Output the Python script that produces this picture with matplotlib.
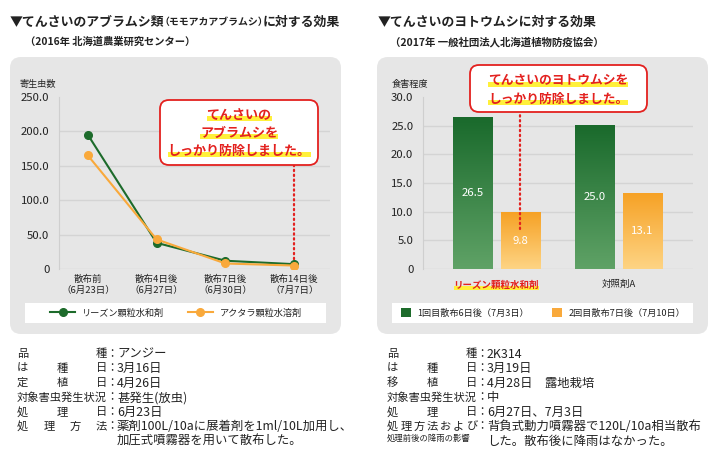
import numpy as np
import matplotlib
matplotlib.use("Agg")
import matplotlib.pyplot as plt
from matplotlib.patches import FancyBboxPatch, Rectangle, Patch
from matplotlib.transforms import IdentityTransform
from matplotlib.ticker import FuncFormatter

plt.rcParams['font.family'] = ['Noto Sans CJK JP', 'DejaVu Sans']

W, H = 720, 474

# --- left chart: aphids
days = ["散布前\n（6月23日）", "散布4日後\n（6月27日）", "散布7日後\n（6月30日）", "散布14日後\n（7月7日）"]
reason = [195, 38, 12, 7]
actara = [165, 43, 8, 5]
line_names = ["リーズン顆粒水和剤", "アクタラ顆粒水溶剤"]
left_ticks = [0, 50, 100, 150, 200, 250]

# --- right chart: cutworms
products = ["リーズン顆粒水和剤", "対照剤A"]
first = [26.5, 25.0]
second = [9.8, 13.1]
bar_names = ["1回目散布6日後（7月3日）", "2回目散布7日後（7月10日）"]
right_ticks = [0, 5, 10, 15, 20, 25, 30]

# --- notes under charts
left_notes = [
    (["品", "種"], "アンジー"),
    (["は", "種", "日"], "3月16日"),
    (["定", "植", "日"], "4月26日"),
    (["対象害虫発生状況"], "甚発生(放虫)"),
    (["処", "理", "日"], "6月23日"),
    (["処", "理", "方", "法"], "薬剤100L/10aに展着剤を1ml/10L加用し、\n加圧式噴霧器を用いて散布した。"),
]
right_notes = [
    (["品", "種"], "2K314"),
    (["は", "種", "日"], "3月19日"),
    (["移", "植", "日"], "4月28日　露地栽培"),
    (["対象害虫発生状況"], "中"),
    (["処", "理", "日"], "6月27日、7月3日"),
    (["処", "理", "方", "法", "お", "よ", "び"], "背負式動力噴霧器で120L/10a相当散布\nした。散布後に降雨はなかった。"),
]

GREEN = "#1d6b2b"
ORANGE = "#f9a93b"
RED = "#e3211f"
YELLOW = "#fff03a"
TXT = "#222222"
GRID = "#d4d4d4"
BG = "#e6e6e6"

fig = plt.figure(figsize=(W / 100, H / 100), dpi=100)
inch = fig.dpi_scale_trans


def P(x, y):
    return x / 100, (H - y) / 100


def ftext(x, y, s, **kw):
    kw.setdefault("color", TXT)
    return fig.text(*P(x, y), s, transform=inch, **kw)


def box(x0, x1, y0, y1, r, **kw):
    fig.add_artist(FancyBboxPatch(P(x0, y1), (x1 - x0) / 100, (y1 - y0) / 100,
                                  boxstyle="round,pad=0,rounding_size=%g" % r,
                                  transform=inch, **kw))


marked = []


def fmt(v, pos):
    return "0" if v == 0 else "%.1f" % v


def style_axes(ax, ticks):
    ax.set_facecolor("none")
    for s in ["top", "right", "bottom"]:
        ax.spines[s].set_visible(False)
    ax.spines["left"].set_color("#cfcfcf")
    ax.set_yticks(ticks)
    ax.set_ylim(ticks[0], ticks[-1])
    ax.yaxis.set_major_formatter(FuncFormatter(fmt))
    ax.tick_params(axis="y", length=0, pad=7, labelsize=8.2, labelcolor=TXT)
    ax.tick_params(axis="x", length=0)
    ax.yaxis.grid(True, color=GRID, lw=1)
    ax.get_ygridlines()[-1].set_visible(False)
    ax.set_axisbelow(True)


# ---------------- left panel ----------------
box(10, 341, 57, 334, 0.11, fc=BG, ec="none", zorder=-3)
box(25, 326, 303, 323, 0.0, fc="white", ec="none", zorder=-2)
ftext(10, 22, "▼てんさいのアブラムシ類", fontsize=9.3, weight="bold", va="center")
ftext(159, 22.5, "（モモアカアブラムシ）", fontsize=7.1, weight="bold", va="center")
ftext(263, 22, "に対する効果", fontsize=9.3, weight="bold", va="center")
ftext(25, 42, "（2016年 北海道農業研究センター）", fontsize=7.4, weight="bold", va="center")

ax1 = fig.add_axes([59 / W, 1 - 269 / H, (330 - 59) / W, (269 - 97) / H])
style_axes(ax1, left_ticks)
xi = np.arange(len(days))
ax1.plot(xi, reason, color=GREEN, lw=1.5, marker="o", ms=5.5, label=line_names[0], zorder=3)
ax1.plot(xi, actara, color=ORANGE, lw=1.5, marker="o", ms=5.5, label=line_names[1], zorder=4)
ax1.set_xlim(-0.42, 3.52)
ax1.set_xticks(xi)
ax1.set_xticklabels(days, fontsize=6.8, color=TXT, linespacing=1.25)
ax1.tick_params(axis="x", pad=4)
ftext(20, 84, "寄生虫数", fontsize=6.6, va="center")

leg1 = ax1.legend(loc="center", bbox_to_anchor=P(176, 313), bbox_transform=inch,
                  ncol=2, frameon=False, fontsize=6.6, handlelength=2.7,
                  handletextpad=0.75, columnspacing=2.6, borderaxespad=0)
for txt in leg1.get_texts():
    txt.set_color(TXT)

# callout + dotted leader
box(160, 318, 100, 165, 0.09, fc="white", ec=RED, lw=1.3, zorder=5)
for i, line in enumerate(["てんさいの", "アブラムシを", "しっかり防除しました。"]):
    marked.append(ftext(239, 115 + 18 * i, line, fontsize=9.4, weight="bold", color=RED,
                        ha="center", va="center", zorder=7))
top1 = ax1.transData.inverted().transform(inch.transform(P(0, 166)))[1]
ax1.plot([3, 3], [reason[-1], top1], color=RED, lw=1.6, ls=(0, (0.6, 1.6)),
         dash_capstyle="round", clip_on=False, zorder=2)

# ---------------- right panel ----------------
box(377, 708, 57, 334, 0.11, fc=BG, ec="none", zorder=-3)
box(392, 693, 303, 323, 0.0, fc="white", ec="none", zorder=-2)
ftext(378, 22, "▼てんさいのヨトウムシに対する効果", fontsize=9.3, weight="bold", va="center")
ftext(390, 42, "（2017年 一般社団法人北海道植物防疫協会）", fontsize=7.5, weight="bold", va="center")

ax2 = fig.add_axes([423 / W, 1 - 269 / H, (693 - 423) / W, (269 - 97) / H])
style_axes(ax2, right_ticks)
gi = np.arange(len(products))
bw, off = 0.32, 0.195
grads = [(first, -off, ["#1a6a2c", "#5fa266"]), (second, off, ["#f6a226", "#fed484"])]
for vals, dx, (c_top, c_bot) in grads:
    cmap = matplotlib.colors.LinearSegmentedColormap.from_list("g", [c_bot, c_top])
    for g, v in zip(gi, vals):
        ax2.imshow(np.linspace(0, 1, 100).reshape(-1, 1), cmap=cmap, origin="lower",
                   extent=[g + dx - bw / 2, g + dx + bw / 2, 0, v], aspect="auto", zorder=2)
        ax2.text(g + dx, v / 2, "%.1f" % v, color="white", fontsize=8.2,
                 ha="center", va="center", zorder=3)
ax2.set_xlim(-0.6, 1.61)
ax2.set_ylim(0, 30)
ax2.set_xticks(gi)
ax2.set_xticklabels(products, fontsize=6.8)
ax2.tick_params(axis="x", pad=8)
xl = ax2.get_xticklabels()
xl[0].set_color(RED)
xl[0].set_weight("bold")
xl[1].set_color(TXT)
marked.append(xl[0])
ftext(392, 84, "食害程度", fontsize=6.6, va="center")

handles = [Patch(fc=GREEN, ec="none", label=bar_names[0]),
           Patch(fc=ORANGE, ec="none", label=bar_names[1])]
leg2 = ax2.legend(handles=handles, loc="center", bbox_to_anchor=P(543, 313), bbox_transform=inch,
                  ncol=2, frameon=False, fontsize=6.6, handlelength=1.1, handleheight=1.1,
                  handletextpad=0.7, columnspacing=2.5, borderaxespad=0)
for txt in leg2.get_texts():
    txt.set_color(TXT)

box(470, 647, 65, 112, 0.09, fc="white", ec=RED, lw=1.3, zorder=5)
for i, line in enumerate(["てんさいのヨトウムシを", "しっかり防除しました。"]):
    marked.append(ftext(558, 81 + 18 * i, line, fontsize=9.2, weight="bold", color=RED,
                        ha="center", va="center", zorder=7))
top2 = ax2.transData.inverted().transform(inch.transform(P(0, 114)))[1]
ax2.plot([off, off], [7.0, top2], color=RED, lw=1.6, ls=(0, (0.6, 1.6)),
         dash_capstyle="round", clip_on=False, zorder=4)


# ---------------- notes ----------------
def notes(rows, x0, x1, y0, dy=14.5):
    for r, (chars, value) in enumerate(rows):
        y = y0 + dy * r
        if len(chars) == 1:
            ftext(x0, y, chars[0], fontsize=8.1, va="center", ha="left")
        else:
            cw = 11.3
            for k, ch in enumerate(chars):
                cx = x0 + cw / 2 + k * (x1 - x0 - cw) / (len(chars) - 1)
                ftext(cx, y, ch, fontsize=8.1, va="center", ha="center")
        ftext(x1 + 5, y, "：", fontsize=8.1, va="center", ha="center")
        ftext(x1 + 10, y - 6.4, value, fontsize=8.9, va="top", ha="left", linespacing=1.18)


notes(left_notes, 17, 107, 354)
notes(right_notes, 387, 477, 354)
ftext(387, 438, "処理前後の降雨の影響", fontsize=6.0, va="center")

# yellow marker highlight behind selected texts
fig.canvas.draw()
rend = fig.canvas.get_renderer()
for t in marked:
    bb = t.get_window_extent(rend)
    fig.add_artist(Rectangle((bb.x0, bb.y0 + bb.height * 0.04), bb.width, bb.height * 0.42,
                             transform=IdentityTransform(), fc=YELLOW, ec="none",
                             zorder=-1 if t is xl[0] else 6))

fig.savefig("out.png", dpi=100)
